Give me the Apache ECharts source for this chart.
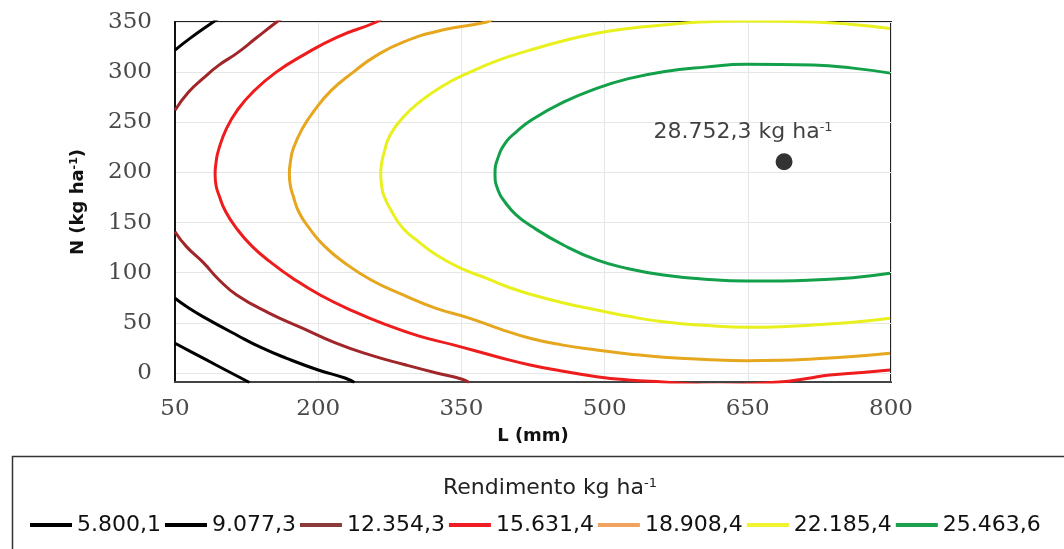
<!DOCTYPE html>
<html><head><meta charset="utf-8">
<script src="https://cdn.jsdelivr.net/npm/echarts@6/dist/echarts.min.js"></script>
<style>html,body{margin:0;padding:0;background:#fff}#c{width:1064px;height:549px}</style>
</head><body><div id="c"></div>
<script>
// ---- data: [L (mm), N (kg/ha)] ----
const xTicks = [50, 200, 350, 500, 650, 800];
const yTicks = [0, 50, 100, 150, 200, 250, 300, 350];
const levelNames = ['5.800,1', '9.077,3', '12.354,3', '15.631,4', '18.908,4', '22.185,4', '25.463,6'];

const c5800 = [[50,29.6],[66,21.5],[83,13],[104,2.5],[123,-7],[128,-9.5]];
const c9077Bottom = [[50,74.5],[64,65],[79.7,56],[114.6,37.9],[140,25.5],[167,14.6],[200,3],[228,-5],[238,-9.5]];
const c9077Top = [[50,322],[65.7,333.7],[90,350],[96,354]];
const c12354Top = [[50,262],[64,280],[79.7,294],[96,307],[114.6,318.7],[135,334],[156.5,350],[164,355]];
const c12354Bottom = [[50,140.9],[62,126],[79.7,110],[96,93],[114.6,77.8],[148,60],[184,44.5],[218,30],[254,18],[290,8.5],[324,0],[350,-6],[358,-9.5]];
const c15631 = [[268,355],[261,350],[220,335],[184.4,317],[156,300],[132,280.5],[116,263],[104,244],[95.5,222],[93,210],[92,198.4],[93,187],[96,177.5],[103,161],[114.6,144],[130,127],[149.5,111],[174,94],[202,77.8],[236,62],[271.8,47.9],[305,37],[341.5,28],[390,15.5],[422,8],[455,2],[491.7,-3.7],[525,-7],[561,-9],[620,-12],[683,-9],[712,-5.5],[736,-2],[770,0.5],[799,3]];
const c18908 = [[384,354],[376.5,350],[330,342],[289,330],[260,316],[236.8,300],[214,282],[195,260.5],[183,243],[174,224],[171,211],[169.8,198.4],[170.8,187],[173.5,177.5],[180,160],[191,144],[206,127],[226,111],[255,93],[289,77.8],[322,65],[359,54.5],[390,44],[421.9,34.6],[455,28],[491.7,22.9],[525,19],[561.5,15.7],[605,13.5],[648.8,12.3],[685,12.6],[718.6,14],[760,16.5],[799,19.6]];
const c22185 = [[799,343.6],[760,347.5],[720,350],[650,351],[600,350],[561.5,347],[525,343.5],[491.7,338.7],[456,331],[421.9,322],[389,312],[359,300],[330,286],[306.6,270.5],[289,255],[275.2,237],[268.5,218],[266.3,208.5],[265.5,198.4],[266.3,188],[268.5,177.5],[277,161],[289,144],[305,131],[324,117.6],[348,105],[376.5,94.4],[398,86],[421.9,78.6],[456,70],[491.7,62.8],[525,56.5],[561.5,51],[605,47.5],[648.8,45.5],[685,46],[718.6,47.9],[760,50.5],[799,54.5]];
const c25463 = [[799,299],[760,304],[718.6,307],[648.8,307.8],[605,305],[561.5,300.4],[525,293.5],[491.7,283.8],[456.8,270],[423,252],[407,240],[397,230.6],[388.5,215],[385.2,198.4],[388.5,182],[396,170],[407,158],[423,146.5],[456.8,127.6],[491.7,112.7],[525,104],[561.5,97.7],[605,93.5],[648.8,91.7],[685,91.8],[718.6,92.7],[760,95],[799,99.4]];
const maxPoint = [688, 210.7];
const maxLabel = '28.752,3';

// ---- styles ----
const lineColors = ['#000000', '#000000', '#a0262a', '#ee1c1c', '#e6a61e', '#e8f01e', '#12a04a'];
const legendColors = ['#000000', '#000000', '#8c3b3b', '#ee1c25', '#f0a35e', '#f2f230', '#1a9f4a'];

function contour(name, data, color) {
  return {
    type: 'line', name: name, data: data, smooth: 0.5, symbol: 'none', clip: true,
    lineStyle: { width: 3, color: color }, itemStyle: { color: color }, z: 3
  };
}

const chart = echarts.init(document.getElementById('c'));
chart.setOption({
  animation: false,
  grid: { left: 175, right: 173, top: 22, bottom: 167, show: true, borderColor: '#222', borderWidth: 2 },
  xAxis: {
    type: 'value', min: 50, max: 800,
    name: 'L (mm)', nameLocation: 'middle', nameGap: 45,
    nameTextStyle: { fontFamily: 'DejaVu Sans', fontWeight: 'bold', fontSize: 18, color: '#111' },
    axisLine: { onZero: false, lineStyle: { color: '#444', width: 2 } },
    axisTick: { show: false, customValues: xTicks },
    axisLabel: { customValues: xTicks, margin: 16, fontFamily: 'DejaVu Serif', fontSize: 23, color: '#4a4a4a' },
    splitLine: { show: true, lineStyle: { color: '#e6e6e6', width: 1 } }
  },
  yAxis: {
    type: 'value', min: -9, max: 350,
    name: 'N (kg ha{s|-1})', nameLocation: 'middle', nameGap: 87,
    nameTextStyle: { fontFamily: 'DejaVu Sans', fontWeight: 'bold', fontSize: 18, color: '#111',
      rich: { s: { fontFamily: 'DejaVu Sans', fontWeight: 'bold', fontSize: 11, padding: [0, 0, 8, 0], color: '#111' } } },
    axisLine: { show: true, onZero: false, lineStyle: { color: '#111', width: 2 } },
    axisTick: { show: false, customValues: yTicks },
    axisLabel: { customValues: yTicks, margin: 23, fontFamily: 'DejaVu Serif', fontSize: 23, color: '#4a4a4a' },
    splitLine: { show: true, lineStyle: { color: '#e6e6e6', width: 1 } }
  },
  title: {
    text: 'Rendimento kg ha{s|-1}', left: 545, top: 472, textAlign: 'center',
    textStyle: { fontFamily: 'DejaVu Sans', fontWeight: 'normal', fontSize: 22, color: '#222',
      rich: { s: { fontFamily: 'DejaVu Sans', fontSize: 13, padding: [0, 0, 10, 0], color: '#222' } } }
  },
  legend: {
    left: 25, top: 509, icon: 'rect', itemWidth: 42, itemHeight: 4, itemGap: 4,
    selectedMode: false,
    textStyle: { fontFamily: 'DejaVu Sans', fontSize: 22, color: '#111' },
    data: levelNames.map((n, i) => ({ name: n, itemStyle: { color: legendColors[i] } }))
  },
  graphic: [{
    type: 'rect', left: 10, top: 454, z: -1,
    shape: { width: 1070, height: 110 },
    style: { fill: 'none', stroke: '#333', lineWidth: 1.5 }
  }],
  series: [
    contour(levelNames[0], c5800, lineColors[0]),
    contour(levelNames[1], c9077Bottom, lineColors[1]),
    contour(levelNames[1], c9077Top, lineColors[1]),
    contour(levelNames[2], c12354Top, lineColors[2]),
    contour(levelNames[2], c12354Bottom, lineColors[2]),
    contour(levelNames[3], c15631, lineColors[3]),
    contour(levelNames[4], c18908, lineColors[4]),
    contour(levelNames[5], c22185, lineColors[5]),
    contour(levelNames[6], c25463, lineColors[6]),
    {
      type: 'scatter', name: 'max', data: [maxPoint], symbolSize: 17, z: 5,
      itemStyle: { color: '#000' },
      label: {
        show: true, position: 'top', offset: [-41, -4],
        formatter: maxLabel + ' kg ha{s|-1}',
        fontFamily: 'DejaVu Sans', fontSize: 22, color: '#111',
        rich: { s: { fontFamily: 'DejaVu Sans', fontSize: 13, padding: [0, 0, 10, 0], color: '#111' } }
      }
    }
  ]
});
</script></body></html>
